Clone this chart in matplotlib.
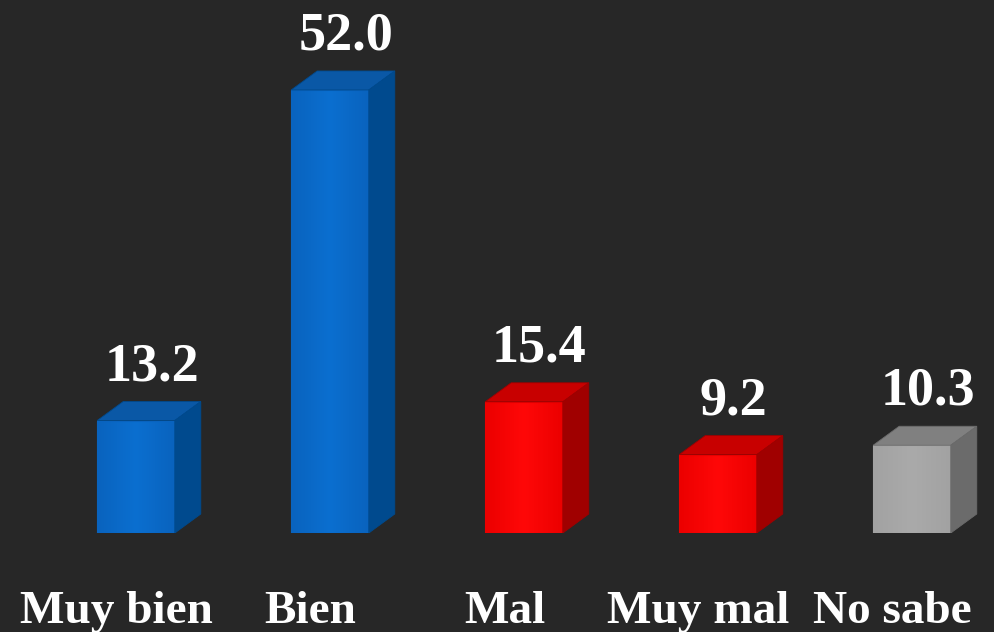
import matplotlib

matplotlib.use("Agg")

import matplotlib.pyplot as plt
import numpy as np
from matplotlib.colors import LinearSegmentedColormap
from matplotlib.patches import Polygon

categories = ["Muy bien", "Bien", "Mal", "Muy mal", "No sabe"]
values = [13.2, 52.0, 15.4, 9.2, 10.3]
value_labels = ["13.2", "52.0", "15.4", "9.2", "10.3"]

# front (dark, light), top, side
palette = {
    "blue": ("#0963be", "#0b6fd0", "#0a58a6", "#004a8e"),
    "red": ("#ec0000", "#ff0808", "#c80000", "#a00000"),
    "gray": ("#a2a2a2", "#aaaaaa", "#808080", "#6b6b6b"),
}
bar_colors = ["blue", "blue", "red", "red", "gray"]

BG = "#272727"
WIDTH = 0.40
DX = 0.134   # depth, category units
DY = 2.23    # depth, value units

fig = plt.figure(figsize=(9.95, 6.32), dpi=100, facecolor=BG)
ax = fig.add_axes([0, 99 / 632, 1, 533 / 632])
ax.set_facecolor(BG)
ax.set_xlim(-0.701, 4.428)
ax.set_ylim(0, 62.56)
ax.axis("off")

x = np.arange(len(categories))
bars = ax.bar(x, values, width=WIDTH, color="none", edgecolor="none", zorder=2)

for bar, key in zip(bars, bar_colors):
    dark, light, top_c, side_c = palette[key]
    x0, w, h = bar.get_x(), bar.get_width(), bar.get_height()

    cmap = LinearSegmentedColormap.from_list("f", [dark, light, dark])
    grad = np.linspace(0, 1, 64).reshape(1, -1)
    im = ax.imshow(grad, cmap=cmap, extent=(x0, x0 + w, 0, h),
                   aspect="auto", zorder=2, interpolation="bilinear")
    im.set_clip_path(bar)
    ax.add_patch(Polygon([(x0, 0), (x0 + w, 0), (x0 + w, h), (x0, h)],
                         closed=True, fill=False, edgecolor=dark, lw=0.8, zorder=3))

    top = Polygon([(x0, h), (x0 + w, h), (x0 + w + DX, h + DY), (x0 + DX, h + DY)],
                  closed=True, facecolor=top_c, edgecolor=side_c, lw=0.6, zorder=3)
    side = Polygon([(x0 + w, 0), (x0 + w + DX, DY), (x0 + w + DX, h + DY), (x0 + w, h)],
                   closed=True, facecolor=side_c, edgecolor=side_c, lw=0.6, zorder=3)
    ax.add_patch(top)
    ax.add_patch(side)

serif = ["Liberation Serif", "DejaVu Serif"]

for xi, v, lab in zip(x, values, value_labels):
    ax.text(xi + 0.08, v + DY + 2.5, lab, ha="center", va="baseline",
            fontsize=39, fontweight="bold", color="white", family=serif)

for xi, cat in zip(x, categories):
    ax.text(xi - 0.10, -10.56, cat, ha="center", va="baseline",
            fontsize=34, fontweight="bold", color="white", family=serif,
            clip_on=False)

fig.savefig("out.png", dpi=100, facecolor=BG)
